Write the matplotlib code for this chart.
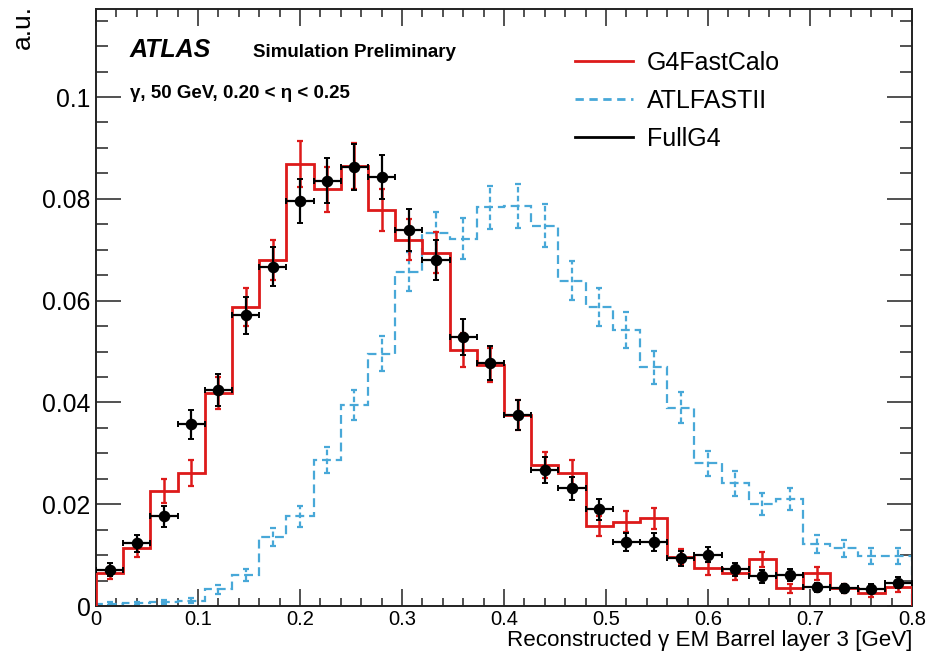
import matplotlib
matplotlib.use("Agg")
import matplotlib.pyplot as plt
from matplotlib.lines import Line2D
from matplotlib.ticker import FixedLocator, FixedFormatter, MultipleLocator
import numpy as np

plt.rcParams['font.family'] = ['Liberation Sans', 'DejaVu Sans']

# ---------------- data ----------------
x_min, x_max, n_bins = 0.0, 0.8, 30

fullg4 = [0.0071, 0.0123, 0.0176, 0.0357, 0.0424, 0.0571, 0.0667, 0.0795, 0.0836, 0.0863,
          0.0843, 0.0739, 0.0680, 0.0529, 0.0477, 0.0375, 0.0267, 0.0231, 0.0190, 0.0126,
          0.0126, 0.0094, 0.0101, 0.0072, 0.0058, 0.0061, 0.0037, 0.0035, 0.0034, 0.0046]
fullg4_err = [0.0013, 0.0017, 0.0020, 0.0029, 0.0031, 0.0036, 0.0039, 0.0043, 0.0044, 0.0045,
              0.0044, 0.0041, 0.0040, 0.0035, 0.0033, 0.0029, 0.0025, 0.0023, 0.0021, 0.0017,
              0.0017, 0.0015, 0.0015, 0.0013, 0.0012, 0.0012, 0.0009, 0.0009, 0.0009, 0.0010]

g4fastcalo = [0.0065, 0.0113, 0.0226, 0.0261, 0.0418, 0.0588, 0.0680, 0.0868, 0.0819, 0.0864,
              0.0778, 0.0720, 0.0694, 0.0503, 0.0473, 0.0375, 0.0277, 0.0262, 0.0157, 0.0166,
              0.0172, 0.0097, 0.0074, 0.0064, 0.0092, 0.0035, 0.0064, 0.0035, 0.0026, 0.0037]
g4fastcalo_err = [0.0012, 0.0016, 0.0023, 0.0025, 0.0031, 0.0037, 0.0040, 0.0045, 0.0044, 0.0045,
                  0.0042, 0.0041, 0.0040, 0.0034, 0.0033, 0.0029, 0.0025, 0.0025, 0.0019, 0.0020,
                  0.0020, 0.0015, 0.0013, 0.0012, 0.0015, 0.0009, 0.0012, 0.0009, 0.0008, 0.0009]

atlfastii = [0.0004, 0.0005, 0.0007, 0.0010, 0.0033, 0.0061, 0.0136, 0.0176, 0.0287, 0.0395,
             0.0496, 0.0657, 0.0733, 0.0722, 0.0783, 0.0786, 0.0747, 0.0639, 0.0588, 0.0542,
             0.0469, 0.0390, 0.0280, 0.0241, 0.0200, 0.0210, 0.0122, 0.0113, 0.0098, 0.0098]
atlfastii_err = [0.0003, 0.0003, 0.0004, 0.0005, 0.0009, 0.0012, 0.0018, 0.0020, 0.0026, 0.0030,
                 0.0034, 0.0039, 0.0041, 0.0041, 0.0042, 0.0043, 0.0042, 0.0038, 0.0037, 0.0035,
                 0.0033, 0.0030, 0.0025, 0.0024, 0.0022, 0.0022, 0.0017, 0.0016, 0.0015, 0.0015]

xtick_vals = [0, 0.1, 0.2, 0.3, 0.4, 0.5, 0.6, 0.7, 0.8]
xtick_labels = ['0', '0.1', '0.2', '0.3', '0.4', '0.5', '0.6', '0.7', '0.8']
ytick_vals = [0, 0.02, 0.04, 0.06, 0.08, 0.1]
ytick_labels = ['0', '0.02', '0.04', '0.06', '0.08', '0.1']
y_max = 0.1173

series_names = ['G4FastCalo', 'ATLFASTII', 'FullG4']

# ---------------- style ----------------
RED = '#dd1a1a'
BLUE = '#48a8d8'
BLACK = '#000000'

edges = np.linspace(x_min, x_max, n_bins + 1)
centers = 0.5 * (edges[:-1] + edges[1:])
half_w = 0.5 * (edges[1] - edges[0])

fig = plt.figure(figsize=(9.3, 6.56), dpi=100)
ax = fig.add_axes([96 / 930, 50 / 656, 816 / 930, 597 / 656])

dash = (0, (4.0, 2.2))

# ATLFASTII (blue dashed)
ax.stairs(atlfastii, edges, color=BLUE, lw=1.6, linestyle=dash, zorder=2)
eb = ax.errorbar(centers, atlfastii, yerr=atlfastii_err, fmt='none', ecolor=BLUE,
                 elinewidth=1.6, capsize=2, capthick=1.6, zorder=2)
for c in eb[2]:
    c.set_linestyle((0, (2.5, 1.5)))

# G4FastCalo (red solid)
ax.stairs(g4fastcalo, edges, color=RED, lw=2.0, zorder=3)
ax.errorbar(centers, g4fastcalo, yerr=g4fastcalo_err, fmt='none', ecolor=RED,
            elinewidth=1.8, capsize=2.2, capthick=1.6, zorder=3)

# FullG4 (black points)
ax.errorbar(centers, fullg4, xerr=half_w, yerr=fullg4_err, fmt='o', color=BLACK,
            ms=7.3, elinewidth=1.6, capsize=2, capthick=1.4, zorder=4)

ax.set_xlim(x_min, x_max)
ax.set_ylim(0, y_max)

ax.xaxis.set_major_locator(FixedLocator(xtick_vals))
ax.xaxis.set_major_formatter(FixedFormatter(xtick_labels))
ax.xaxis.set_minor_locator(MultipleLocator(0.02))
ax.yaxis.set_major_locator(FixedLocator(ytick_vals))
ax.yaxis.set_major_formatter(FixedFormatter(ytick_labels))
ax.yaxis.set_minor_locator(MultipleLocator(0.005))

ax.tick_params(which='both', direction='in', top=True, right=True, width=1.1, color='#222222')
ax.tick_params(axis='x', which='major', length=12, labelsize=14.5, pad=3)
ax.tick_params(axis='x', which='minor', length=6)
ax.tick_params(axis='y', which='major', length=18, labelsize=17.8, pad=4)
ax.tick_params(axis='y', which='minor', length=8.6)
for s in ax.spines.values():
    s.set_linewidth(1.4)
    s.set_color('#222222')

# axis titles
fig.text(912 / 930, 1 - 646 / 656, 'Reconstructed \u03b3 EM Barrel layer 3 [GeV]',
         ha='right', va='baseline', fontsize=16.1)
fig.text(23 / 930, 1 - 5 / 656, 'a.u.', rotation=90, ha='center', va='top', fontsize=19)

# labels
fig.text(130 / 930, 1 - 57 / 656, 'ATLAS', fontsize=18, fontweight='bold', fontstyle='italic',
         ha='left', va='baseline')
fig.text(253 / 930, 1 - 57 / 656, 'Simulation Preliminary', fontsize=13.5, fontweight='bold',
         ha='left', va='baseline')
fig.text(130 / 930, 1 - 98 / 656, '\u03b3, 50 GeV, 0.20 < \u03b7 < 0.25', fontsize=13.5,
         fontweight='bold', ha='left', va='baseline')

# legend
handles = [Line2D([], [], color=RED, lw=2.0),
           Line2D([], [], color=BLUE, lw=2.0, linestyle=(0, (3.0, 2.0))),
           Line2D([], [], color=BLACK, lw=2.0)]
fig.legend(handles, series_names, loc='upper left', bbox_to_anchor=(575 / 930, 1 - 51 / 656),
           bbox_transform=fig.transFigure, frameon=False, fontsize=18, borderpad=0,
           borderaxespad=0, handlelength=2.32, handletextpad=0.56, labelspacing=0.56)

fig.savefig('out.png', dpi=100)
